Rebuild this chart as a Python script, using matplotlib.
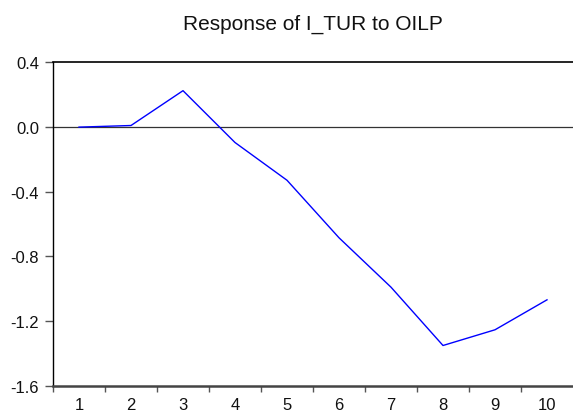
import matplotlib
matplotlib.use("Agg")
import matplotlib.pyplot as plt
from matplotlib.ticker import FixedLocator, NullFormatter

# data
periods = [1, 2, 3, 4, 5, 6, 7, 8, 9, 10]
response = [-0.002, 0.008, 0.223, -0.097, -0.33, -0.685, -0.99, -1.35, -1.253, -1.068]
y_ticks = [0.4, 0.0, -0.4, -0.8, -1.2, -1.6]
title = "Response of I_TUR to OILP"

plt.rcParams["font.family"] = ["Liberation Sans", "DejaVu Sans"]

fig = plt.figure(figsize=(5.73, 4.14), dpi=100)
fig.patch.set_facecolor("white")
ax = fig.add_axes([53 / 573, 1 - 387 / 414, 1 - 53 / 573, (387 - 63) / 414])

ax.axhline(0, color="#333333", lw=0.9, zorder=1)
ax.plot(periods, response, color="#0000FF", lw=1.0, zorder=2)

ax.set_xlim(0.5, 10.5)
ax.set_ylim(-1.6, 0.4)

# category boundaries as tick marks, labels centred under each period
ax.xaxis.set_major_locator(FixedLocator([p - 0.5 for p in periods]))
ax.xaxis.set_major_formatter(NullFormatter())
ax.xaxis.set_minor_locator(FixedLocator(periods))
ax.set_xticklabels([str(p) for p in periods], minor=True)
ax.tick_params(axis="x", which="major", direction="out", length=4.5,
               width=1.0, color="#555555")
ax.tick_params(axis="x", which="minor", length=0, pad=8,
               labelsize=12, labelcolor="#111111")

ax.set_yticks(y_ticks)
ax.set_yticklabels([f"{v:.1f}" for v in y_ticks])
ax.tick_params(axis="y", direction="out", length=6, width=1.0,
               color="#555555", labelsize=12, labelcolor="#111111", pad=4)

ax.spines["right"].set_visible(False)
ax.spines["top"].set_color("black")
ax.spines["top"].set_linewidth(1.2)
ax.spines["left"].set_color("black")
ax.spines["left"].set_linewidth(1.0)
ax.spines["bottom"].set_color("#444444")
ax.spines["bottom"].set_linewidth(1.8)

fig.text(313 / 573, 1 - 30 / 414, title, ha="center", va="baseline",
         fontsize=15, color="#111111")

fig.savefig("out.png", dpi=100, facecolor="white")
